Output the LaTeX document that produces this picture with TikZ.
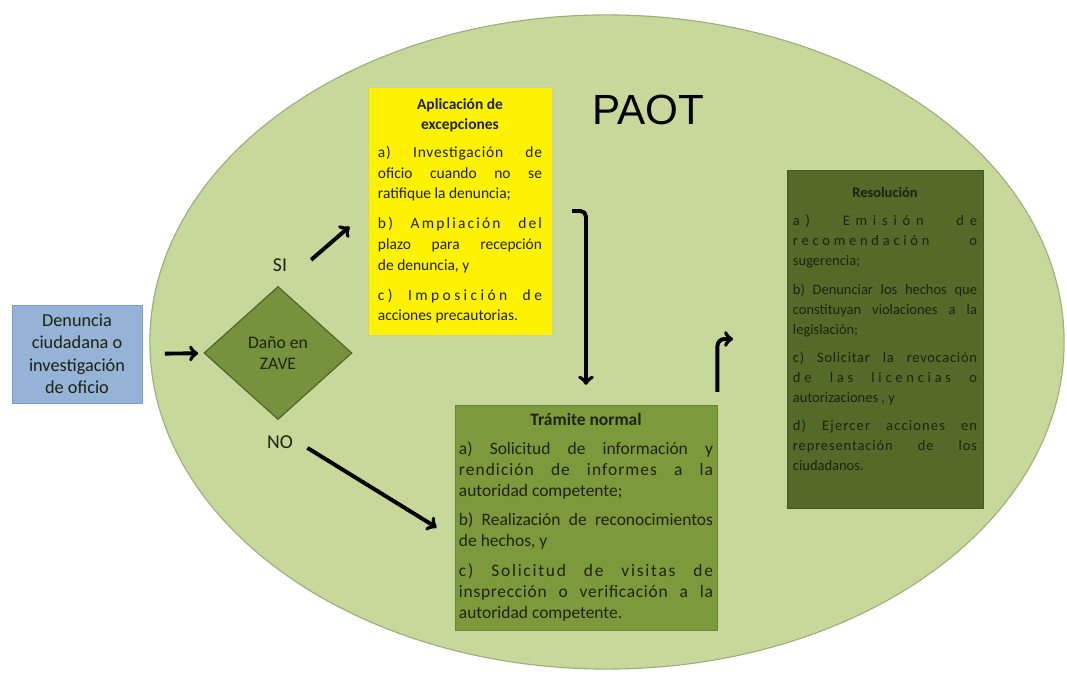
\documentclass[tikz,border=0pt]{standalone}
\usepackage{fontspec}
\setmainfont{Carlito}
\newfontfamily\paotfont{Liberation Sans}
\usetikzlibrary{shapes.geometric}

\definecolor{ovalgreen}{HTML}{C6D99B}
\definecolor{ovalline}{HTML}{9DAE7E}
\definecolor{denblue}{HTML}{95B3D7}
\definecolor{denline}{HTML}{7F9DC4}
\definecolor{zavegreen}{HTML}{76923C}
\definecolor{zaveline}{HTML}{4F6228}
\definecolor{excline}{HTML}{CFCF9A}
\definecolor{tramgreen}{HTML}{7C9A3C}
\definecolor{tramline}{HTML}{6A8534}
\definecolor{resgreen}{HTML}{536A29}
\definecolor{resline}{HTML}{46591F}
\definecolor{inktext}{HTML}{1E220F}

\newcommand{\sgap}[1][6pt]{\par\vspace{#1}}
\newcommand{\spread}[2]{{\addfontfeature{LetterSpace=#1}#2}}

\begin{document}
\begin{tikzpicture}[x=0.025cm, y=-0.025cm,
    textbox/.style={draw, line width=0.6pt, text=inktext, inner ysep=3pt, align=justify},
    flow/.style={->, line width=2.8pt, black}]
        \useasboundingbox (0, 0) rectangle (1067, 681);
        \draw[fill=ovalgreen, draw=ovalline, line width=0.8pt] (607, 342) ellipse [x radius=11.425cm, y radius=8.175cm];

        \node[draw=denline, fill=denblue, line width=0.6pt, text=inktext, align=center,
              minimum width=3.25cm, minimum height=2.45cm,
              font=\fontsize{13}{16}\selectfont] (den) at (77, 354)
              {Denuncia\\ ciudadana o\\ investigación\\ de oficio};
        \node[diamond, draw=zaveline, fill=zavegreen, line width=0.8pt, inner sep=0pt,
              minimum width=3.7cm, minimum height=3.325cm, align=center, text=inktext,
              font=\fontsize{12.5}{15}\selectfont] (zave) at (278, 353) {Daño en\\ ZAVE};

        \node[textbox, draw=excline, fill=yellow, text width=4.1cm, inner xsep=0.25cm,
              minimum height=6.2cm, font=\fontsize{11}{14.6}\selectfont\sloppy] (exc) at (460, 211)
              {{\centering\bfseries Aplicación de\par excepciones\par}\vspace{5pt}
              \spread{5}{a) Investigación de}\linebreak oficio cuando no se\linebreak ratifique la denuncia;\sgap[7pt]
              \spread{14}{b) Ampliación del}\linebreak plazo para recepción\linebreak de denuncia, y\sgap[7pt]
              \spread{22}{c) Imposición de}\linebreak acciones precautorias.};

        \node[textbox, draw=tramline, fill=tramgreen, text width=6.35cm, inner xsep=0.1cm,
              minimum height=5.625cm, font=\fontsize{12.4}{15}\selectfont\sloppy] (tram) at (586, 517.5)
              {{\centering\bfseries Trámite normal\par}\vspace{5pt}
              a) Solicitud de información y\linebreak \spread{6}{rendición de informes a la}\linebreak autoridad competente;\sgap
              b) Realización de reconocimientos\linebreak de hechos, y\sgap
              \spread{10}{c) Solicitud de visitas de}\linebreak \spread{4}{insprección o verificación a la}\linebreak autoridad competente.};

        \node[textbox, draw=resline, fill=resgreen, text width=4.6cm, inner xsep=0.15cm,
              minimum height=8.45cm, font=\fontsize{10.3}{14.2}\selectfont\sloppy] (res) at (885, 339)
              {{\centering\bfseries Resolución\par}\vspace{6pt}
              \spread{40}{a) Emisión de}\linebreak \spread{26}{recomendación o}\linebreak sugerencia;\sgap
              b) Denunciar los hechos que\linebreak constituyan violaciones a la\linebreak legislación;\sgap
              \spread{5}{c) Solicitar la revocación}\linebreak \spread{26}{de las licencias o}\linebreak autorizaciones , y\sgap
              \spread{8}{d) Ejercer acciones en}\linebreak \spread{6}{representación de los}\linebreak ciudadanos.\par\hbox{}};

        \node[font=\paotfont\fontsize{30}{36}\selectfont] (paot) at (648, 110) {PAOT};
        \node[font=\fontsize{14}{16}\selectfont, text=inktext] (si) at (280, 265) {SI};
        \node[font=\fontsize{14}{16}\selectfont, text=inktext] (no) at (280, 442) {NO};

        \draw[flow, shorten <=18pt, shorten >=17pt] (si.south east) -- (exc.west);
        \draw[flow, shorten <=16pt, shorten >=4pt] (den) -- (zave);
        \draw[flow, shorten <=8pt, shorten >=15pt] (no.east) -- ([yshift=-15pt]tram.west);
        \draw[flow, rounded corners=4pt, shorten <=14pt, shorten >=14pt] (exc.east) -| (tram.north);
        \draw[flow, rounded corners=5pt, shorten <=9pt, shorten >=38pt] (tram.north east) |- (res.west);
    \end{tikzpicture}
\end{document}
